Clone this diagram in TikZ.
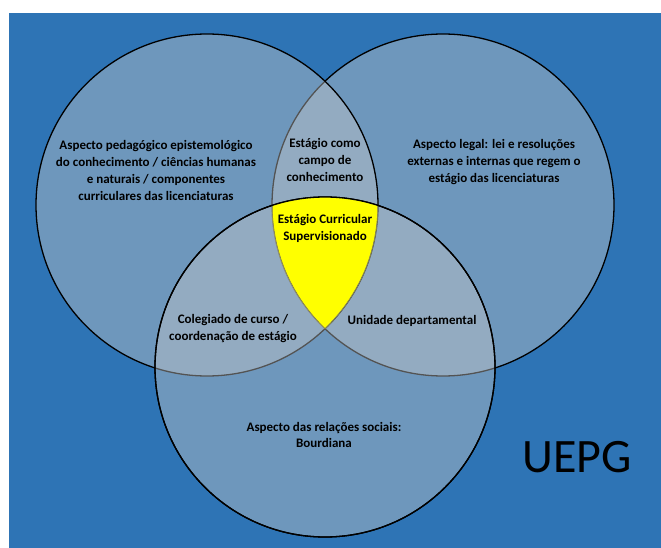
\documentclass[tikz,border=0pt]{standalone}
\usepackage{fontspec}
\setmainfont{Carlito}
\begin{document}
\begin{tikzpicture}[x=1pt,y=-1pt,
  circ/.style={fill=cfill,fill opacity=0.42,draw=black,draw opacity=1,line width=1.3pt},
  lbl/.style={font=\bfseries\fontsize{13}{17}\selectfont,align=center,text=black,inner sep=0pt}]
\definecolor{bg}{RGB}{46,116,181}
\definecolor{cfill}{RGB}{200,200,200}
\definecolor{ylw}{RGB}{255,255,0}
\useasboundingbox (0,0) rectangle (661,548);
\fill[white] (0,0) rectangle (661,548);
\fill[bg] (9,13) rectangle (661,548);
% circles
\coordinate (cL) at (207,205);
\coordinate (cR) at (443,205);
\coordinate (cB) at (325,367);
\path[circ] (cR) circle[radius=171];
\path[circ] (cL) circle[radius=171];
\path[circ] (cB) circle[radius=170];
% yellow centre
\begin{scope}
  \clip (cL) circle[radius=171];
  \clip (cR) circle[radius=171];
  \fill[ylw] (cB) circle[radius=170];
  \clip (cB) circle[radius=170];
  \draw[gray!80!black,line width=1pt] (cL) circle[radius=171];
  \draw[gray!80!black,line width=1pt] (cR) circle[radius=171];
\end{scope}
\draw[black,line width=1.3pt] (cB) circle[radius=170];
% labels
\node[lbl] (ped) at (156,170) {Aspecto pedagógico epistemológico\\do conhecimento / ciências humanas\\e naturais / componentes\\curriculares das licenciaturas};
\node[lbl] (campo) at (325,160) {Estágio como\\campo de\\conhecimento};
\node[lbl] (legal) at (494,162) {Aspecto legal: lei e resoluções\\externas e internas que regem o\\estágio das licenciaturas};
\node[lbl] (esc) at (325,228) {Estágio Curricular\\Supervisionado};
\node[lbl] (coleg) at (233,329) {Colegiado de curso /\\coordenação de estágio};
\node[lbl] (unid) at (412,321) {Unidade departamental};
\node[lbl,font=\bfseries\fontsize{13}{16}\selectfont] (soc) at (324,435) {Aspecto das relações sociais:\\Bourdiana};
\node[inner sep=0pt,font=\fontsize{48}{48}\selectfont] (uepg) at (577,457) {UEPG};
\end{tikzpicture}
\end{document}
